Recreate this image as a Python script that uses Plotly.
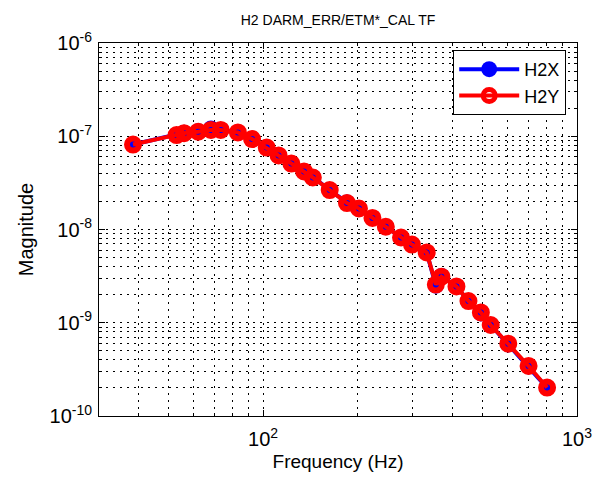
import math
import plotly.graph_objects as go

# ---- data ----
freq_hz = [38.5, 53, 56, 62.1, 68.2, 73.3, 83.1, 92.2, 102.7, 112, 123, 135, 144,
           163, 185, 202, 223, 246, 275, 298, 332, 355, 370, 413, 451, 494, 531,
           604, 701, 803]
mag_h2x = [8.15e-8, 1.03e-7, 1.09e-7, 1.13e-7, 1.21e-7, 1.17e-7, 1.10e-7, 9.34e-8,
           7.57e-8, 6.30e-8, 5.10e-8, 4.19e-8, 3.66e-8, 2.65e-8, 1.95e-8, 1.68e-8,
           1.33e-8, 1.07e-8, 8.21e-9, 6.90e-9, 5.67e-9, 2.50e-9, 3.18e-9, 2.45e-9,
           1.71e-9, 1.26e-9, 9.46e-10, 5.85e-10, 3.40e-10, 2.00e-10]
mag_h2y = [8.15e-8, 1.03e-7, 1.08e-7, 1.12e-7, 1.17e-7, 1.17e-7, 1.10e-7, 9.34e-8,
           7.57e-8, 6.22e-8, 5.10e-8, 4.19e-8, 3.61e-8, 2.65e-8, 1.92e-8, 1.68e-8,
           1.33e-8, 1.07e-8, 8.21e-9, 6.90e-9, 5.67e-9, 2.57e-9, 3.12e-9, 2.45e-9,
           1.71e-9, 1.29e-9, 9.46e-10, 5.96e-10, 3.44e-10, 2.02e-10]

x_major = [100, 1000]
x_major_text = ["10<sup>2</sup>", "10<sup>3</sup>"]
y_major = [1e-10, 1e-9, 1e-8, 1e-7, 1e-6]
y_major_text = ["10<sup>-10</sup>", "10<sup>-9</sup>", "10<sup>-8</sup>",
                "10<sup>-7</sup>", "10<sup>-6</sup>"]

title_text = "H2 DARM_ERR/ETM*_CAL TF"
x_label = "Frequency (Hz)"
y_label = "Magnitude"

# minor tick positions (2..9 x decade)
x_minor = [m * 10 ** e for e in (1, 2) for m in range(2, 10) if 30 <= m * 10 ** e <= 1000]
y_minor = [m * 10.0 ** e for e in (-10, -9, -8, -7) for m in range(2, 10)]

FONT = "Liberation Sans, Arial, sans-serif"
GRID_DASH = "2px,5px"

fig = go.Figure()
fig.add_trace(go.Scatter(
    x=freq_hz, y=mag_h2x, name="H2X", mode="lines+markers",
    line=dict(color="#0000ff", width=4),
    marker=dict(symbol="circle", size=16, color="#0000ff"),
))
fig.add_trace(go.Scatter(
    x=freq_hz, y=mag_h2y, name="H2Y", mode="lines+markers",
    line=dict(color="#ff0000", width=4),
    marker=dict(symbol="circle-open", size=12, color="#ff0000",
                line=dict(color="#ff0000", width=6)),
))

axis_common = dict(
    type="log", showline=True, linecolor="black", linewidth=1, mirror="allticks",
    ticks="inside", ticklen=6, tickcolor="black", tickwidth=1,
    showgrid=True, gridcolor="black", gridwidth=1, griddash=GRID_DASH,
    zeroline=False, tickmode="array",
    tickfont=dict(family=FONT, size=20, color="black"),
)

fig.update_layout(
    width=604, height=480,
    margin=dict(l=99, r=18, t=43, b=64),
    paper_bgcolor="white", plot_bgcolor="white",
    font=dict(family=FONT, color="black"),
    title=dict(text=title_text, x=0.5, xref="paper", xanchor="center",
               y=1 - 20 / 480, yref="container", yanchor="middle",
               font=dict(family=FONT, size=14, color="black")),
    xaxis=dict(axis_common, range=[math.log10(30), 3], tickvals=x_major,
               ticktext=x_major_text, ticklabelstandoff=5,
               minor=dict(tickmode="array", tickvals=x_minor, ticks="inside",
                          ticklen=3, tickcolor="black", showgrid=True,
                          gridcolor="black", gridwidth=1, griddash=GRID_DASH),
               title=dict(text=x_label, standoff=5,
                          font=dict(family=FONT, size=19, color="black"))),
    yaxis=dict(axis_common, range=[-10, -6], tickvals=y_major,
               ticktext=y_major_text, ticklabelstandoff=2,
               minor=dict(tickmode="array", tickvals=y_minor, ticks="inside",
                          ticklen=3, tickcolor="black", showgrid=True,
                          gridcolor="black", gridwidth=1, griddash=GRID_DASH),
               title=dict(text=y_label, standoff=10,
                          font=dict(family=FONT, size=20, color="black"))),
    legend=dict(x=(575 - 99) / 487, y=(416 - 50) / 373, xanchor="right", yanchor="top",
                bgcolor="white", bordercolor="black", borderwidth=1,
                font=dict(family=FONT, size=18, color="black"),
                itemwidth=60, tracegroupgap=0),
    showlegend=True,
)

fig.write_html("out.html")
